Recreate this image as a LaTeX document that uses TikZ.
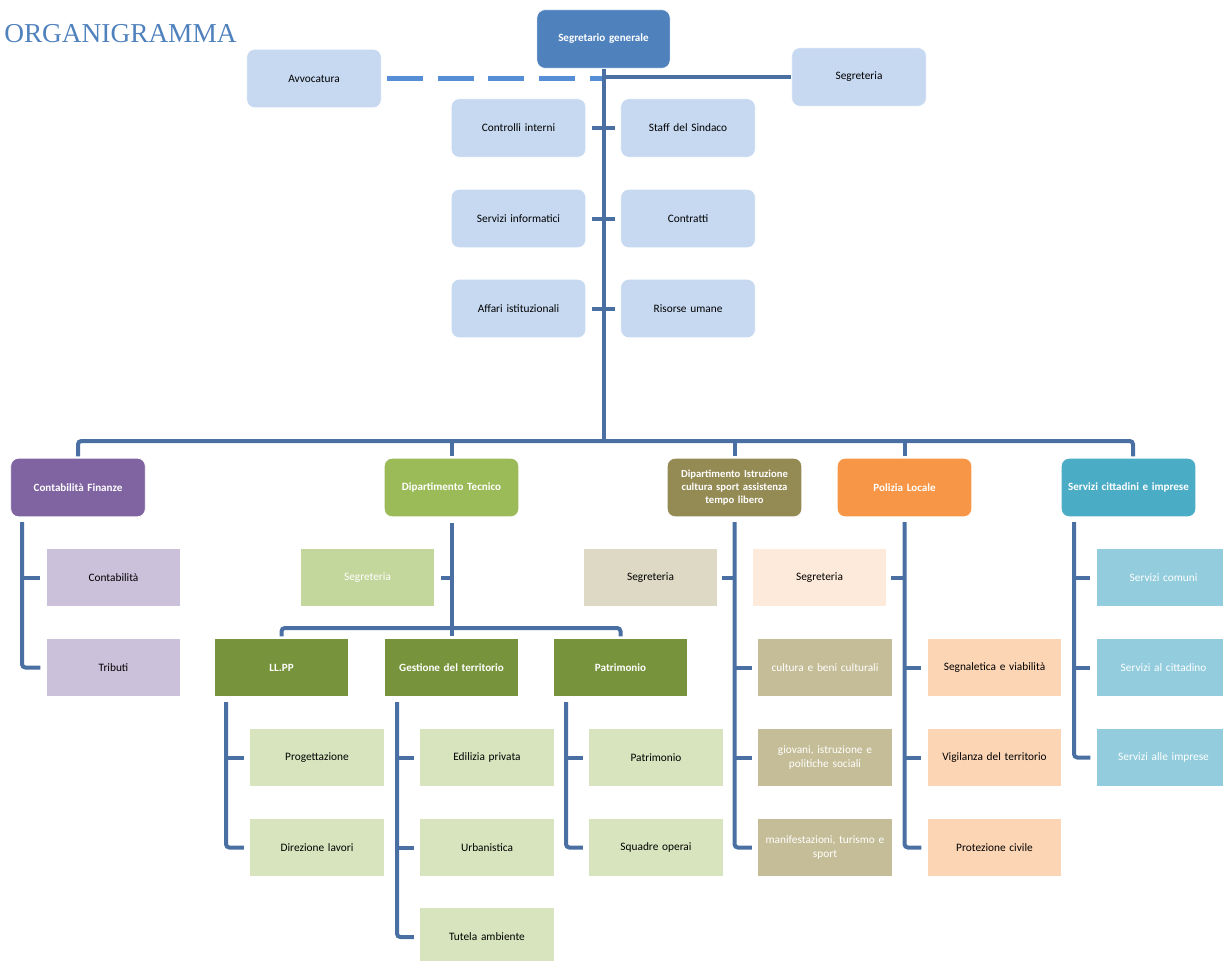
\documentclass[tikz,border=0pt]{standalone}
\usepackage{fontspec}
\setmainfont{Carlito}
\newfontfamily\titlefont{Liberation Serif}
\definecolor{sgblue}{RGB}{79,129,189}
\definecolor{lblue}{RGB}{198,217,241}
\definecolor{linec}{RGB}{74,112,163}
\definecolor{dashc}{RGB}{85,142,213}
\definecolor{purp}{RGB}{128,100,162}
\definecolor{lpurp}{RGB}{204,193,218}
\definecolor{grn}{RGB}{155,187,89}
\definecolor{dgrn}{RGB}{119,147,60}
\definecolor{mgrn}{RGB}{195,214,155}
\definecolor{lgrn}{RGB}{215,228,189}
\definecolor{oliv}{RGB}{148,138,84}
\definecolor{moliv}{RGB}{196,189,151}
\definecolor{loliv}{RGB}{221,217,196}
\definecolor{orng}{RGB}{247,150,70}
\definecolor{morng}{RGB}{252,213,181}
\definecolor{lorng}{RGB}{253,234,218}
\definecolor{teal}{RGB}{75,172,198}
\definecolor{lteal}{RGB}{147,205,221}
\begin{document}
\begin{tikzpicture}[x=0.75pt,y=-0.75pt,
  box/.style={minimum width=101pt, minimum height=44pt, inner sep=1pt, align=center,
    text width=98pt, font=\fontsize{8.5}{10.5}\selectfont, draw=white, line width=0.6pt},
  rbox/.style={box, rounded corners=6pt},
  hdr/.style={rbox, text=white, font=\fontsize{8.3}{10.5}\selectfont\bfseries},
  conn/.style={draw=linec, line width=3pt, rounded corners=2.5pt},
  dashline/.style={draw=dashc, line width=3.6pt, dash pattern=on 27pt off 11pt}]
\useasboundingbox (0,0) rectangle (1223,960);

\node[anchor=west, text=sgblue, font=\titlefont\fontsize{20.5}{24}\selectfont, inner sep=0] (title) at (4,34) {ORGANIGRAMMA};

% top level
\node[hdr, fill=sgblue, minimum width=100pt] (sg) at (603.5,39) {Segretario generale};
\node[rbox, fill=lblue] (avv) at (314,78.5) {Avvocatura};
\node[rbox, fill=lblue] (segr) at (859,77) {Segreteria};
\node[rbox, fill=lblue] (ctrl) at (518.5,128) {Controlli interni};
\node[rbox, fill=lblue] (staff) at (688,128) {Staff del Sindaco};
\node[rbox, fill=lblue] (info) at (518.5,218.5) {Servizi informatici};
\node[rbox, fill=lblue] (contr) at (688,218.5) {Contratti};
\node[rbox, fill=lblue] (aff) at (518.5,308.5) {Affari istituzionali};
\node[rbox, fill=lblue] (ris) at (688,308.5) {Risorse umane};

\coordinate (bar) at (603.5,441);
\draw[dashline] ([xshift=4pt]avv.east) -- (avv.east -| sg.south);
\draw[conn] (sg.south) -- (bar);
\draw[conn] (sg.south |- segr.west) -- (segr.west);
\draw[conn] ([xshift=4pt]ctrl.east) -- ([xshift=-4pt]staff.west);
\draw[conn] ([xshift=4pt]info.east) -- ([xshift=-4pt]contr.west);
\draw[conn] ([xshift=4pt]aff.east) -- ([xshift=-4pt]ris.west);

% departments
\node[hdr, fill=purp] (fin) at (78,487.5) {Contabilità Finanze};
\node[hdr, fill=grn] (tec) at (451.5,487.5) {Dipartimento Tecnico};
\node[hdr, fill=oliv, font=\fontsize{8}{10}\selectfont\bfseries] (istr) at (734.5,487.5) {Dipartimento Istruzione\\cultura sport assistenza\\tempo libero};
\node[hdr, fill=orng] (pol) at (904.5,487.5) {Polizia Locale};
\node[hdr, fill=teal] (serv) at (1128.5,487.5) {Servizi cittadini e imprese};

\draw[conn] ([yshift=1pt]fin.north) |- (bar) -| ([xshift=3.4pt,yshift=1pt]serv.north);
\draw[conn] ([yshift=1pt]tec.north) -- (tec.north |- bar);
\draw[conn] ([yshift=1pt]istr.north) -- (istr.north |- bar);
\draw[conn] ([yshift=1pt]pol.north) -- (pol.north |- bar);

% Contabilita Finanze
\node[box, fill=lpurp] (cont) at (113.5,577.5) {Contabilità};
\node[box, fill=lpurp] (trib) at (113.5,667.5) {Tributi};
\coordinate (finTop) at (22,522);
\draw[conn] (finTop) |- ([xshift=-4pt]trib.west);
\draw[conn] (finTop |- cont.west) -- ([xshift=-4pt]cont.west);

% Dipartimento Tecnico
\node[box, fill=mgrn, text=white] (tsegr) at (367.5,577.5) {Segreteria};
\node[hdr, rounded corners=0pt, fill=dgrn] (llpp) at (281.5,667.5) {LL.PP};
\node[hdr, rounded corners=0pt, fill=dgrn] (gest) at (451.5,667.5) {Gestione del territorio};
\node[hdr, rounded corners=0pt, fill=dgrn] (patr) at (620.5,667.5) {Patrimonio};
\coordinate (tbar) at (451.5,628);
\draw[conn] ([yshift=-4pt]tec.south) -- (tbar);
\draw[conn] (tec.south |- tsegr.east) -- ([xshift=4pt]tsegr.east);
\draw[conn] ([yshift=1pt]llpp.north) |- (tbar) -| ([yshift=1pt]patr.north);
\draw[conn] ([yshift=1pt]gest.north) -- (gest.north |- tbar);

\node[box, fill=lgrn] (prog) at (317,757.5) {Progettazione};
\node[box, fill=lgrn] (dir) at (317,847.5) {Direzione lavori};
\coordinate (llTop) at (226,702);
\draw[conn] (llTop) |- ([xshift=-4pt]dir.west);
\draw[conn] (llTop |- prog.west) -- ([xshift=-4pt]prog.west);

\node[box, fill=lgrn] (edil) at (487,757.5) {Edilizia privata};
\node[box, fill=lgrn] (urb) at (487,847.5) {Urbanistica};
\node[box, fill=lgrn] (tut) at (487,937) {Tutela ambiente};
\coordinate (geTop) at (397,702);
\draw[conn] (geTop) |- ([xshift=-4pt]tut.west);
\draw[conn] (geTop |- edil.west) -- ([xshift=-4pt]edil.west);
\draw[conn] (geTop |- urb.west) -- ([xshift=-4pt]urb.west);

\node[box, fill=lgrn] (patr2) at (656,757.5) {Patrimonio};
\node[box, fill=lgrn] (squad) at (656,847.5) {Squadre operai};
\coordinate (paTop) at (566,702);
\draw[conn] (paTop) |- ([xshift=-4pt]squad.west);
\draw[conn] (paTop |- patr2.west) -- ([xshift=-4pt]patr2.west);

% Istruzione
\node[box, fill=loliv] (isegr) at (650.5,577.5) {Segreteria};
\node[box, fill=moliv, text=white] (cult) at (825,667.5) {cultura e beni culturali};
\node[box, fill=moliv, text=white] (giov) at (825,757.5) {giovani, istruzione e\\politiche sociali};
\node[box, fill=moliv, text=white] (manif) at (825,847.5) {manifestazioni, turismo e\\sport};
\coordinate (isTop) at (734.5,522);
\draw[conn] (isTop) |- ([xshift=-4pt]manif.west);
\draw[conn] (isTop |- cult.west) -- ([xshift=-4pt]cult.west);
\draw[conn] (isTop |- giov.west) -- ([xshift=-4pt]giov.west);
\draw[conn] (isTop |- isegr.east) -- ([xshift=3pt]isegr.east);

% Polizia Locale
\node[box, fill=lorng] (psegr) at (819.5,577.5) {Segreteria};
\node[box, fill=morng] (segn) at (994.5,667.5) {Segnaletica e viabilità};
\node[box, fill=morng] (vig) at (994.5,757.5) {Vigilanza del territorio};
\node[box, fill=morng] (prot) at (994.5,847.5) {Protezione civile};
\coordinate (poTop) at (904.5,522);
\draw[conn] (poTop) |- ([xshift=-4pt]prot.west);
\draw[conn] (poTop |- segn.west) -- ([xshift=-4pt]segn.west);
\draw[conn] (poTop |- vig.west) -- ([xshift=-4pt]vig.west);
\draw[conn] (poTop |- psegr.east) -- ([xshift=3pt]psegr.east);

% Servizi cittadini e imprese
\node[box, fill=lteal, text=white] (scom) at (1163.5,577.5) {Servizi comuni};
\node[box, fill=lteal, text=white] (scit) at (1163.5,667.5) {Servizi al cittadino};
\node[box, fill=lteal, text=white] (simp) at (1163.5,757.5) {Servizi alle imprese};
\coordinate (seTop) at (1074,522);
\draw[conn] (seTop) |- ([xshift=-4pt]simp.west);
\draw[conn] (seTop |- scom.west) -- ([xshift=-4pt]scom.west);
\draw[conn] (seTop |- scit.west) -- ([xshift=-4pt]scit.west);
\end{tikzpicture}
\end{document}
